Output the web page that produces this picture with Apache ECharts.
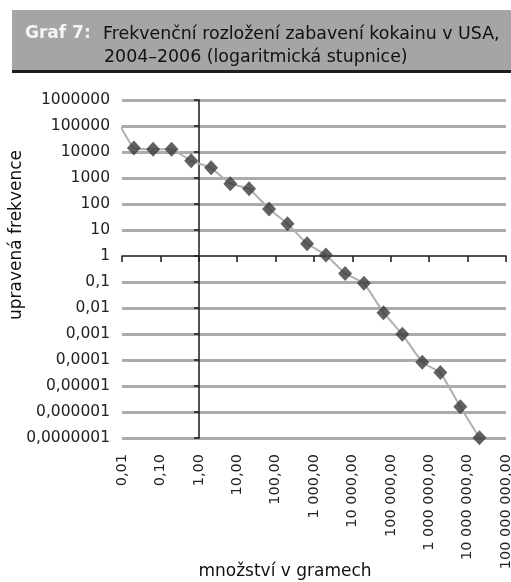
<!DOCTYPE html>
<html>
<head>
<meta charset="utf-8">
<script src="https://cdn.jsdelivr.net/npm/echarts@6/dist/echarts.min.js"></script>
<style>
html,body{margin:0;padding:0;background:#fff;}
#chart{width:511px;height:582px;}
</style>
</head>
<body>
<div id="chart"></div>
<script>
// Data
const xTickLabels = ['0,01','0,10','1,00','10,00','100,00','1 000,00','10 000,00','100 000,00','1 000 000,00','10 000 000,00','100 000 000,00'];
const yTickLabels = ['0,0000001','0,000001','0,00001','0,0001','0,001','0,01','0,1','1','10','100','1000','10000','100000','1000000'];
const quantity = [0.0204, 0.0646, 0.195, 0.631, 2.09, 6.61, 20.4, 67.6, 204, 661, 2042, 6457, 19950, 64565, 199526, 660693, 1950000, 6460000, 20400000];
const frequency = [14125, 12882, 12882, 4571, 2455, 603, 389, 64.6, 17.4, 2.95, 1.10, 0.214, 0.0891, 0.00661, 0.000977, 0.0000813, 0.0000331, 0.00000158, 0.000000102];
const trendStartX = [0.0066];
const trendStartY = [223000];

const titleLabel = 'Graf 7:';
const titleLine1 = 'Frekvenční rozložení zabavení kokainu v USA,';
const titleLine2 = '2004–2006 (logaritmická stupnice)';
const yName = 'upravená frekvence';
const xName = 'množství v gramech';

const FONT = 'DejaVu Sans';
const points = quantity.map((q, i) => [q, frequency[i]]);
const trend = trendStartX.map((x, i) => [x, trendStartY[i]]).concat(points);

const ySplitColors = yTickLabels.map(l => l === '1' ? 'rgba(0,0,0,0)' : '#ababab');

const chart = echarts.init(document.getElementById('chart'), null, {renderer: 'canvas'});
const xLog = {
  type: 'log', logBase: 10, min: 0.01, max: 1e8, interval: 1
};
const yLog = {
  type: 'log', logBase: 10, min: 1e-7, max: 1e6, interval: 1
};
chart.setOption({
  animation: false,
  backgroundColor: '#fff',
  grid: {left: 122, right: 5, top: 100, bottom: 144, outerBoundsMode: 'none', containLabel: false},
  xAxis: [
    Object.assign({}, xLog, {
      position: 'bottom',
      axisLine: {show: false, onZero: false},
      axisTick: {show: false},
      splitLine: {show: false},
      axisLabel: {
        rotate: 90, margin: 16, fontFamily: FONT, fontSize: 14.5, color: '#222',
        showMinLabel: true, showMaxLabel: true, hideOverlap: false,
        formatter: v => xTickLabels[Math.round(Math.log10(v)) + 2]
      }
    }),
    Object.assign({}, xLog, {
      position: 'bottom', offset: -182,
      axisLine: {show: true, onZero: false, lineStyle: {color: '#1a1a1a', width: 1.5}},
      axisTick: {show: true, length: 6, lineStyle: {color: '#1a1a1a', width: 1.5}},
      splitLine: {show: false},
      axisLabel: {show: false}
    })
  ],
  yAxis: [
    Object.assign({}, yLog, {
      position: 'left',
      axisLine: {show: false, onZero: false},
      axisTick: {show: false},
      splitLine: {show: true, lineStyle: {color: ySplitColors, width: 3}},
      axisLabel: {
        margin: 12, fontFamily: FONT, fontSize: 15.5, color: '#222',
        showMinLabel: true, showMaxLabel: true, hideOverlap: false,
        formatter: v => yTickLabels[Math.round(Math.log10(v)) + 7]
      }
    }),
    Object.assign({}, yLog, {
      position: 'left', offset: -77,
      axisLine: {show: true, onZero: false, lineStyle: {color: '#1a1a1a', width: 1.5}},
      axisTick: {show: true, length: 5, lineStyle: {color: '#1a1a1a', width: 1.5}},
      splitLine: {show: false},
      axisLabel: {show: false}
    })
  ],
  series: [
    {
      type: 'line', data: trend, xAxisIndex: 0, yAxisIndex: 0,
      showSymbol: false, symbol: 'none', smooth: 0.1, clip: false,
      lineStyle: {color: '#b0b0b0', width: 2}, z: 3
    },
    {
      type: 'scatter', data: points, xAxisIndex: 0, yAxisIndex: 0,
      symbol: 'diamond', symbolSize: [14, 15],
      itemStyle: {color: '#3a3a3a'}, z: 4
    }
  ],
  graphic: [
    {type: 'rect', shape: {x: 12, y: 10, width: 499, height: 60}, style: {fill: '#a5a5a5'}, z: 1},
    {type: 'rect', shape: {x: 12, y: 70, width: 499, height: 3}, style: {fill: '#1e1e1e'}, z: 1},
    {type: 'text', x: 25, y: 34, style: {text: titleLabel, font: 'bold 17px "DejaVu Sans"', fill: '#f4f4f4', verticalAlign: 'middle'}, z: 2},
    {type: 'text', x: 103, y: 34, style: {text: titleLine1, font: '17.4px "DejaVu Sans"', fill: '#111', verticalAlign: 'middle'}, z: 2},
    {type: 'text', x: 104, y: 57, style: {text: titleLine2, font: '17.4px "DejaVu Sans"', fill: '#111', verticalAlign: 'middle'}, z: 2},
    {type: 'text', x: 17, y: 235, rotation: Math.PI / 2, style: {text: yName, font: '17px "DejaVu Sans"', fill: '#111', align: 'center', verticalAlign: 'middle'}, z: 2},
    {type: 'text', x: 285, y: 572, style: {text: xName, font: '17px "DejaVu Sans"', fill: '#111', align: 'center', verticalAlign: 'middle'}, z: 2}
  ]
});
</script>
</body>
</html>
